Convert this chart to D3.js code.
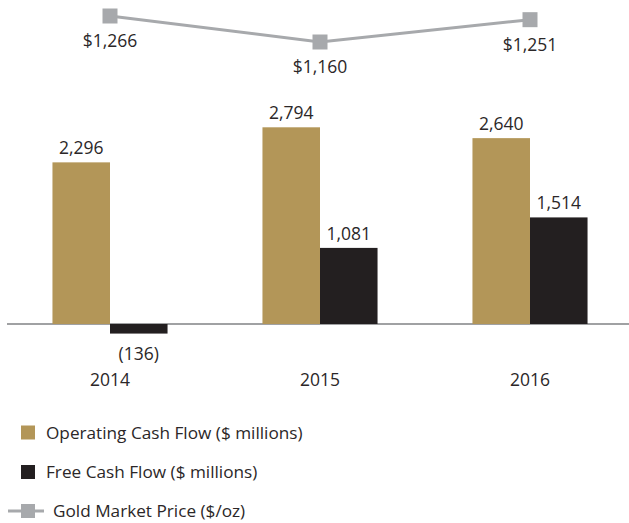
<!DOCTYPE html>
<html>
<head>
<meta charset="utf-8">
<script src="https://cdn.jsdelivr.net/npm/d3@7"></script>
<style>
  body { margin: 0; background: #fff; }
  text { font-family: "Open Sans", sans-serif; fill: #2b2728; }
</style>
</head>
<body>
<div id="CashFlowPlot"></div>
<script>
var years = ["2014", "2015", "2016"];
var operatingCashFlow = [2296, 2794, 2640];
var freeCashFlow = [-136, 1081, 1514];
var goldPrice = [1266, 1160, 1251];
var seriesNames = ["Operating Cash Flow ($ millions)", "Free Cash Flow ($ millions)", "Gold Market Price ($/oz)"];

CashFlowPlot();

function CashFlowPlot() {

var w = 629, h = 523;
var gold = "#b39658", dark = "#231f20", grey = "#a7a9ac";

var svg = d3.select("#CashFlowPlot").append("svg").attr("width", w).attr("height", h);

var data = years.map(function(y, i) {
  return {year: y, op: operatingCashFlow[i], free: freeCashFlow[i], price: goldPrice[i]};
});

var x0 = d3.scaleBand().domain(years).range([5, 635]).paddingInner(0.452).paddingOuter(0.226),
    x1 = d3.scaleBand().domain(["op", "free"]).range([0, x0.bandwidth()]);

var y = d3.scaleLinear().domain([0, 2794]).range([324, 127.3]);
var yp = d3.scaleLinear().domain([1160, 1266]).range([42, 16]);

// zero line
svg.append("line")
    .attr("x1", 7).attr("x2", w)
    .attr("y1", y(0)).attr("y2", y(0))
    .attr("stroke", "#808285").attr("stroke-width", 1.5);

var groups = svg.selectAll(".grp").data(data).enter().append("g")
    .attr("class", "grp")
    .attr("transform", function(d) { return "translate(" + x0(d.year) + ",0)"; });

groups.append("rect")
    .attr("x", x1("op")).attr("width", x1.bandwidth())
    .attr("y", function(d) { return y(d.op); })
    .attr("height", function(d) { return y(0) - y(d.op); })
    .attr("fill", gold);

groups.append("rect")
    .attr("x", x1("free")).attr("width", x1.bandwidth())
    .attr("y", function(d) { return y(Math.max(0, d.free)); })
    .attr("height", function(d) { return Math.abs(y(0) - y(d.free)); })
    .attr("fill", dark);

var fmt = d3.format(",");

groups.append("text")
    .attr("x", x1("op") + x1.bandwidth() / 2)
    .attr("y", function(d) { return y(d.op) - 8; })
    .attr("text-anchor", "middle").style("font-size", "17.5px")
    .text(function(d) { return fmt(d.op); });

groups.append("text")
    .attr("x", x1("free") + x1.bandwidth() / 2)
    .attr("y", function(d) { return d.free < 0 ? y(d.free) + 26 : y(d.free) - 8; })
    .attr("text-anchor", "middle").style("font-size", "17.5px")
    .text(function(d) { return d.free < 0 ? "(" + fmt(-d.free) + ")" : fmt(d.free); });

groups.append("text")
    .attr("x", x0.bandwidth() / 2)
    .attr("y", 386)
    .attr("text-anchor", "middle").style("font-size", "17.5px")
    .text(function(d) { return d.year; });

// gold price line
var priceLine = d3.line()
    .x(function(d) { return x0(d.year) + x0.bandwidth() / 2; })
    .y(function(d) { return yp(d.price); });

svg.append("path")
    .datum(data)
    .attr("d", priceLine)
    .attr("fill", "none").attr("stroke", grey).attr("stroke-width", 3);

var ms = 15;
svg.selectAll(".mk").data(data).enter().append("rect")
    .attr("class", "mk")
    .attr("x", function(d) { return x0(d.year) + x0.bandwidth() / 2 - ms / 2; })
    .attr("y", function(d) { return yp(d.price) - ms / 2; })
    .attr("width", ms).attr("height", ms)
    .attr("fill", grey);

svg.selectAll(".pl").data(data).enter().append("text")
    .attr("class", "pl")
    .attr("x", function(d) { return x0(d.year) + x0.bandwidth() / 2; })
    .attr("y", function(d) { return yp(d.price) + 31; })
    .attr("text-anchor", "middle").style("font-size", "17.5px")
    .text(function(d) { return "$" + fmt(d.price); });

// legend
var legend = svg.append("g");
var ly = [432.5, 472, 511];

legend.append("rect").attr("x", 21).attr("y", ly[0] - 7).attr("width", 14).attr("height", 14).attr("fill", gold);
legend.append("rect").attr("x", 21).attr("y", ly[1] - 7).attr("width", 14).attr("height", 14).attr("fill", dark);
legend.append("line").attr("x1", 8).attr("x2", 44).attr("y1", ly[2]).attr("y2", ly[2]).attr("stroke", grey).attr("stroke-width", 3);
legend.append("rect").attr("x", 21).attr("y", ly[2] - 7).attr("width", 14).attr("height", 14).attr("fill", grey);

legend.selectAll("text").data(seriesNames).enter().append("text")
    .attr("x", function(d, i) { return i === 2 ? 53 : 46; })
    .attr("y", function(d, i) { return ly[i] + 6; })
    .style("font-size", "17.2px")
    .text(function(d) { return d; });

}
</script>
</body>
</html>
